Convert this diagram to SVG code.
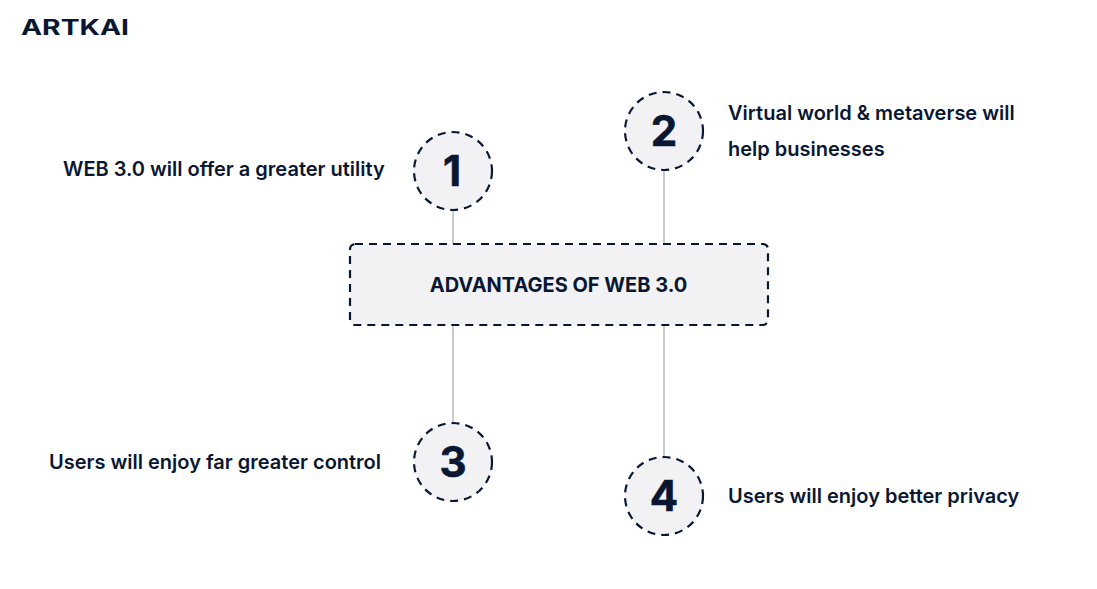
<svg xmlns="http://www.w3.org/2000/svg" width="1097" height="589" viewBox="0 0 1097 589">
<style>
text{font-family:Inter,"Liberation Sans",sans-serif;fill:#0a1733}
.b{fill:#f2f2f4;stroke:#0a1733;stroke-width:2.2;stroke-dasharray:8 6}
.n{font-size:42px;font-weight:700;text-anchor:middle;stroke:#0a1733;stroke-width:0.6}
.l{font-size:20px;font-weight:600}
.c{stroke:#c9cacd;stroke-width:2;fill:none}
</style>
<rect width="1097" height="589" fill="#fff"/>
<g id="logo"><text x="21" y="34.500" style="font-size:21px;font-weight:700;letter-spacing:0" textLength="108" lengthAdjust="spacingAndGlyphs">ARTKAI</text></g>
<g id="connectors">
<path class="c" d="M453 210V244M664 170V244M453 325V422M664 325V456"/>
</g>
<g id="center"><rect class="b" x="350" y="244" width="418" height="81" rx="5"/><text x="558.500" y="292" text-anchor="middle" style="font-size:20px;font-weight:700">ADVANTAGES OF WEB 3.0</text></g>
<g id="node1"><circle class="b" cx="453" cy="171" r="39"/><text class="n" x="452" y="186">1</text><text class="l" x="63" y="176">WEB 3.0 will offer a greater utility</text></g>
<g id="node2"><circle class="b" cx="664" cy="131" r="39"/><text class="n" x="664" y="146">2</text><text class="l" x="728" y="120">Virtual world &amp; metaverse will</text><text class="l" x="728" y="156">help businesses</text></g>
<g id="node3"><circle class="b" cx="453" cy="462" r="39"/><text class="n" x="453" y="477">3</text><text class="l" x="49" y="469">Users will enjoy far greater control</text></g>
<g id="node4"><circle class="b" cx="664" cy="496" r="39"/><text class="n" x="664" y="511">4</text><text class="l" x="728" y="503">Users will enjoy better privacy</text></g>
</svg>
